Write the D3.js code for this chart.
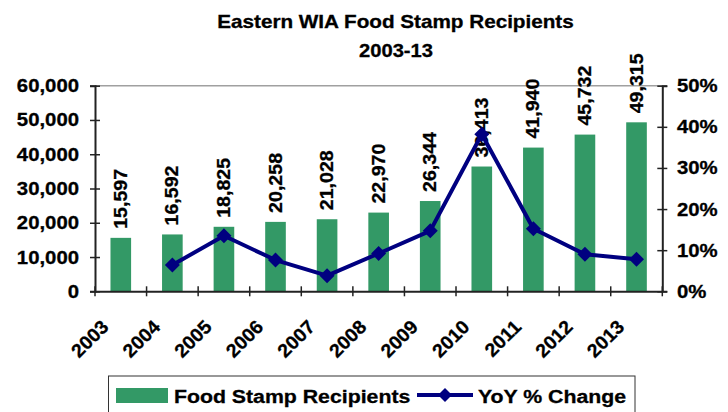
<!DOCTYPE html>
<html><head><meta charset="utf-8">
<script src="https://cdn.jsdelivr.net/npm/d3@7"></script>
<style>
html,body{margin:0;padding:0;background:#fff;}
svg text{font-family:"Liberation Sans",Arial,Helvetica,sans-serif;font-weight:bold;fill:#000;stroke:#000;stroke-width:0.3px;}
</style></head>
<body>
<svg id="chart" width="728" height="412"></svg>
<script>
const years = ["2003","2004","2005","2006","2007","2008","2009","2010","2011","2012","2013"];
const recipients = [15597,16592,18825,20258,21028,22970,26344,36413,41940,45732,49315];
const yoyYears = ["2004","2005","2006","2007","2008","2009","2010","2011","2012","2013"];
const yoyChange = [6.4,13.5,7.6,3.8,9.2,14.7,38.2,15.2,9.0,7.8];
const leftTicks = [0,10000,20000,30000,40000,50000,60000];
const rightTicks = [0,10,20,30,40,50];
const titleLines = ["Eastern WIA Food Stamp Recipients","2003-13"];
const legendLabels = ["Food Stamp Recipients","YoY % Change"];

const svg = d3.select("#chart");
const L = 95, R = 662.3, T = 85.7, B = 291.3;
const green = "#339966", navy = "#000080";

const x = d3.scaleBand().domain(years).range([L, R]).padding(0);
const y = d3.scaleLinear().domain([0,60000]).range([B, T]);
const y2 = d3.scaleLinear().domain([0,50]).range([B, T]);

function stext(g, tx, ty, txt, size, sx, anchor, rot){
  return g.append("text")
    .attr("transform", `translate(${tx},${ty})` + (rot?` rotate(${rot})`:"") + ` scale(${sx},1)`)
    .attr("text-anchor", anchor).style("font-size", size+"px").text(txt);
}

// title
const tg = svg.append("g");
stext(tg, 395.5, 28, titleLines[0], 18, 1.15, "middle");
stext(tg, 396, 57, titleLines[1], 18, 1.12, "middle");

// top border line
svg.append("line").attr("x1",L).attr("x2",R).attr("y1",T).attr("y2",T)
  .attr("stroke","#a0a0a0").attr("stroke-width",1.5);

// bars
svg.append("g").selectAll("rect").data(years).join("rect")
  .attr("x", (d)=>x(d)+x.bandwidth()*0.3)
  .attr("width", x.bandwidth()*0.4)
  .attr("y", (d,i)=>y(recipients[i]))
  .attr("height", (d,i)=>B - y(recipients[i]))
  .attr("fill", green);

// left axis
const ax = svg.append("g").attr("transform",`translate(${L},0)`)
  .call(d3.axisLeft(y).tickValues(leftTicks).tickFormat(d3.format(",")).tickSize(5));
ax.select(".domain").attr("stroke","#222").attr("stroke-width",2);
ax.selectAll(".tick line").attr("x1",5).attr("x2",-5).attr("stroke","#222").attr("stroke-width",1.5);
ax.selectAll(".tick text").remove();
const lg = svg.append("g");
leftTicks.forEach(v=>{ stext(lg, 79, y(v)+6.5, d3.format(",")(v), 18, 1.13, "end"); });

// right axis
const ax2 = svg.append("g").attr("transform",`translate(${R},0)`)
  .call(d3.axisRight(y2).tickValues(rightTicks).tickSize(5));
ax2.select(".domain").attr("stroke","#222").attr("stroke-width",2);
ax2.selectAll(".tick line").attr("x1",-5).attr("x2",5).attr("stroke","#222").attr("stroke-width",1.5);
ax2.selectAll(".tick text").remove();
rightTicks.forEach(v=>{ stext(lg, 677, y2(v)+6.5, v+"%", 18, 1.13, "start"); });

// bottom axis
const bx = svg.append("g").attr("transform",`translate(0,${B})`)
  .call(d3.axisBottom(x).tickValues([]).tickSizeOuter(0));
bx.select(".domain").attr("stroke","#222").attr("stroke-width",2);
const bticks = years.map(d=>x(d)).concat([R]);
svg.append("g").selectAll("line").data(bticks).join("line")
  .attr("x1",d=>d).attr("x2",d=>d).attr("y1",B-5).attr("y2",B+5)
  .attr("stroke","#222").attr("stroke-width",1.5);
years.forEach(d=>{ stext(lg, x(d)+x.bandwidth()/2-11, 328, d, 19, 1.03, "end", -45); });

// bar labels
years.forEach((d,i)=>{
  stext(lg, x(d)+x.bandwidth()/2+6, y(recipients[i])-9, d3.format(",")(recipients[i]), 18, 1.09, "start", -90);
});

// line
const line = d3.line().x((d,i)=>x(yoyYears[i])+x.bandwidth()/2).y(d=>y2(d));
svg.append("path").datum(yoyChange).attr("d", line)
  .attr("fill","none").attr("stroke",navy).attr("stroke-width",4).attr("stroke-linejoin","round");
svg.append("g").selectAll("path").data(yoyChange).join("path")
  .attr("transform",(d,i)=>`translate(${x(yoyYears[i])+x.bandwidth()/2},${y2(d)})`)
  .attr("d", "M0,-7.5L7.5,0L0,7.5L-7.5,0Z")
  .attr("fill",navy);

// legend
const leg = svg.append("g");
leg.append("rect").attr("x",108.5).attr("y",376).attr("width",526.5).attr("height",50)
  .attr("fill","#fff").attr("stroke","#333").attr("stroke-width",1);
leg.append("rect").attr("x",116).attr("y",388).attr("width",52).attr("height",15).attr("fill",green);
stext(leg, 174, 403, legendLabels[0], 19, 1.12, "start");
leg.append("line").attr("x1",417).attr("x2",473).attr("y1",395).attr("y2",395)
  .attr("stroke",navy).attr("stroke-width",4);
leg.append("path").attr("transform","translate(445,395)").attr("d","M0,-7L7,0L0,7L-7,0Z").attr("fill",navy);
stext(leg, 478, 403, legendLabels[1], 19, 1.12, "start");
</script>
</body></html>
